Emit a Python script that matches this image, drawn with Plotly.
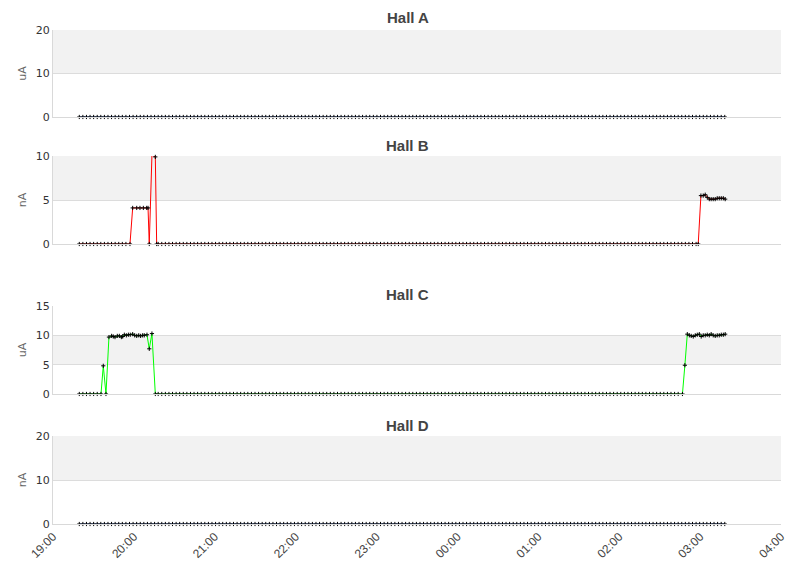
import numpy as np
import pandas as pd
import plotly.graph_objects as go
from plotly.subplots import make_subplots

# beam current per hall, logged overnight
# times are minutes after 19:00, zero readings sampled on the regular logger cadence
start_day = pd.Timestamp("2024-01-01 19:00")
first_sample_min = 19.5
last_sample_min = 499.0
sample_step_min = 2.66

halls = ["Hall A", "Hall B", "Hall C", "Hall D"]
units = ["uA", "nA", "uA", "nA"]
line_colors = ["#3366cc", "#ff0000", "#00ff00", "#3366cc"]
y_max = [20, 10, 15, 20]
y_ticks = [[0, 10, 20], [0, 5, 10], [0, 5, 10, 15], [0, 10, 20]]

# non-zero stretches (minutes after 19:00, value)
hall_b_min = [57.1, 59.1, 62.1, 64.5, 67.0, 69.5, 70.5, 71.4, 73.4, 75.9, 76.9,
              478.6, 480.6, 482.3, 483.8, 485.3, 486.8, 488.2, 489.7, 491.2,
              492.7, 494.2, 495.7, 497.2, 498.6]
hall_b_val = [0, 4.1, 4.1, 4.1, 4.1, 4.1, 4.1, 0, 10.1, 9.9, 0,
              0, 5.5, 5.5, 5.6, 5.3, 5.1, 5.1, 5.1, 5.1,
              5.2, 5.2, 5.2, 5.2, 5.1]

hall_c_min = [35.6, 37.3, 39.3, 41.5, 43.5, 44.7, 46.0, 47.7, 49.2, 50.7, 51.7,
              52.9, 54.4, 55.9, 57.3, 59.1, 60.6, 62.1, 63.6, 65.0, 66.5, 67.7,
              69.7, 71.4, 73.4, 75.9,
              466.9, 468.7, 470.5, 472.0, 473.4, 474.9, 476.4, 477.9, 479.4,
              480.8, 482.3, 483.8, 485.3, 486.8, 488.2, 489.7, 491.2, 492.7,
              494.2, 495.7, 497.2, 498.6]
hall_c_val = [0, 4.8, 0, 9.7, 9.9, 9.8, 9.7, 9.9, 9.9, 9.7, 9.8,
              10.1, 10.0, 10.1, 10.1, 10.2, 10.0, 9.9, 10.0, 9.9, 10.0, 10.0,
              10.1, 7.7, 10.3, 0,
              0, 4.9, 10.2, 10.0, 9.9, 9.8, 10.0, 10.1, 10.2,
              9.8, 10.0, 10.0, 10.1, 10.0, 10.2, 10.0, 9.9, 10.0,
              10.0, 10.1, 10.1, 10.2]

events = [([], []), (hall_b_min, hall_b_val), (hall_c_min, hall_c_val), ([], [])]


def merge_series(ev_min, ev_val):
    grid = np.arange(first_sample_min, last_sample_min + 0.01, sample_step_min)
    # drop grid samples that fall inside a logged stretch
    keep = []
    for g in grid:
        inside = False
        for i in range(len(ev_min) - 1):
            if ev_min[i] - 1 <= g <= ev_min[i + 1] + 1 and ev_min[i + 1] - ev_min[i] < 10:
                inside = True
        if not inside:
            keep.append(g)
    mins = list(keep) + list(ev_min)
    vals = [0] * len(keep) + list(ev_val)
    order = np.argsort(mins)
    t = [start_day + pd.Timedelta(minutes=float(mins[k])) for k in order]
    v = [vals[k] for k in order]
    return t, v


fig = make_subplots(rows=4, cols=1, shared_xaxes=True)

domains = [[0.8239, 1.0], [0.5668, 0.7449], [0.2632, 0.4413], [0.0, 0.1781]]
title_y = [1.0243, 0.7672, 0.4636, 0.2004]

for i in range(4):
    t, v = merge_series(*events[i])
    fig.add_trace(go.Scatter(
        x=t, y=v, mode="lines+markers",
        line=dict(color=line_colors[i], width=1),
        marker=dict(symbol="cross-thin", size=3, line=dict(color="black", width=1)),
        showlegend=False, cliponaxis=False,
    ), row=i + 1, col=1)

    # alternating band
    ticks = y_ticks[i]
    for j in range(1, len(ticks) - 1, 2):
        fig.add_hrect(y0=ticks[j], y1=ticks[j + 1], fillcolor="#f2f2f2",
                      line_width=0, layer="below", row=i + 1, col=1)

    fig.add_annotation(text="<b>%s</b>" % halls[i], xref="paper", yref="paper",
                       x=0.487, y=title_y[i], xanchor="center", yanchor="middle",
                       showarrow=False,
                       font=dict(family="Liberation Sans", size=15, color="#444444"))

    fig.update_yaxes(range=[0, y_max[i]], tickvals=ticks, domain=domains[i],
                     showgrid=True, gridcolor="#dcdcdc", zeroline=False,
                     showline=True, linecolor="#d9d9d9", ticks="",
                     layer="above traces",
                     title=dict(text=units[i], standoff=6,
                                font=dict(size=11, color="#666666")),
                     tickfont=dict(family="DejaVu Sans", size=11, color="#333333"),
                     row=i + 1, col=1)

    fig.update_xaxes(range=[start_day, start_day + pd.Timedelta(hours=9)],
                     showgrid=False, zeroline=False, showline=True,
                     linecolor="#d9d9d9", layer="above traces",
                     dtick=3600000, tickformat="%H:%M", tickangle=-45,
                     tickfont=dict(family="Liberation Sans", size=12, color="#444444"),
                     row=i + 1, col=1)

# page body adds an 8px offset, margins account for it
fig.update_layout(
    width=811, height=578,
    margin=dict(l=45, r=38, t=22, b=62),
    paper_bgcolor="white", plot_bgcolor="white",
    font=dict(family="DejaVu Sans"),
)

fig.write_html("out.html")
